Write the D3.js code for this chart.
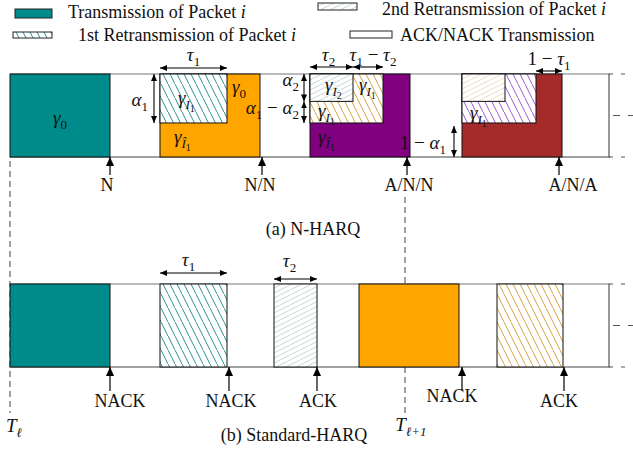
<!DOCTYPE html>
<html><head><meta charset="utf-8">
<script src="https://cdn.jsdelivr.net/npm/d3@7"></script>
<style>
body{margin:0;background:#fff}
text{font-family:"Liberation Serif","Times New Roman",serif;fill:#111}
</style>
</head><body>
<svg id="chart" width="633" height="449"></svg>
<script>
// ---------------- DATA ----------------
// time measured in slots (one full transmission = 1 slot); resources as fraction of band
const frameSlots = [0, 6];
const tau1 = 0.67, tau2 = 0.43;
const alpha1 = 0.59, alpha2 = 0.33;

// (a) N-HARQ transmissions
const aStart   = [0, 1.5, 3.0, 4.52];
const aWidth   = [1, 1, 1, 1];
const aRetx1W  = [0, 0.67, 0.73, 0.74];   // part carrying 1st retransmission (tau1)
const aRetx1H  = [0, alpha1, alpha1, alpha1];
const aRetx2W  = [0, 0, tau2, tau2];       // part carrying 2nd retransmission (tau2)
const aRetx2H  = [0, 0, alpha2, alpha2];
const aFbTime  = [1, 2.52, 3.97, 5.49];
const aFbLabel = ['N', 'N/N', 'A/N/N', 'A/N/A'];

// (b) Standard-HARQ transmissions
const bStart   = [0, 1.5, 2.64, 3.49, 4.87];
const bWidth   = [1, 0.67, 0.43, 1, 0.66];
const bFbTime  = [1, 2.19, 3.07, 4.52, 5.54];
const bFbLabel = ['NACK', 'NACK', 'ACK', 'NACK', 'ACK'];

// frame boundaries
const tEll = 0, tEll1 = 3.95;

// legend
const legendLabels = ['Transmission of Packet ', '1st Retransmission of Packet ', '2nd Retransmission of Packet ', 'ACK/NACK Transmission'];

// ---------------- STYLES ----------------
const teal = '#008b8b', orange = '#ffa500', purple = '#800080', brown = '#a52a2a';
const aFill  = [teal, orange, purple, brown];
const aRetx1Fill = [null, 'url(#hTeal)', 'url(#hOrange)', 'url(#hPurple)'];
const aRetx2Fill = [null, null, 'url(#lTeal)', 'url(#lTan)'];
const bFill  = [teal, 'url(#hTeal)', 'url(#lTeal)', orange, 'url(#hOrange)'];
const aLblDx = [-3, -2, 2, 14];
const bLblDx = [10, 2, 1, -10, -5];

// ---------------- SCALES ----------------
const svg = d3.select('#chart');
const X  = d3.scaleLinear().domain(frameSlots).range([10, 610]);
const YA = d3.scaleLinear().domain([0, 1]).range([157, 74]);
const YB = d3.scaleLinear().domain([0, 1]).range([367, 284]);

// ---------------- DEFS ----------------
const defs = svg.append('defs');
function backHatch(id, color, w) { // "\" lines
  const p = defs.append('pattern').attr('id', id).attr('patternUnits', 'userSpaceOnUse')
    .attr('width', 7).attr('height', 14);
  p.append('rect').attr('width', 7).attr('height', 14).attr('fill', '#fff');
  p.append('line').attr('x1', -1).attr('y1', -2).attr('x2', 8).attr('y2', 16)
    .attr('stroke', color).attr('stroke-width', w);
}
function fwdHatch(id, color, w) { // "/" light lines
  const p = defs.append('pattern').attr('id', id).attr('patternUnits', 'userSpaceOnUse')
    .attr('width', 10).attr('height', 5);
  p.append('rect').attr('width', 10).attr('height', 5).attr('fill', '#fff');
  p.append('line').attr('x1', -2).attr('y1', 6).attr('x2', 12).attr('y2', -1)
    .attr('stroke', color).attr('stroke-width', w);
}
backHatch('hTeal', '#2b8f8f', 1);
backHatch('hOrange', '#d9a040', 1);
backHatch('hPurple', '#9b5ad6', 1);
fwdHatch('lTeal', '#b9cccc', 0.8);
fwdHatch('lTan', '#e6d2b4', 0.8);

function marker(id, len, half) {
  defs.append('marker').attr('id', id).attr('markerUnits', 'userSpaceOnUse')
    .attr('viewBox', `0 0 ${len} ${half*2}`).attr('markerWidth', len).attr('markerHeight', half*2)
    .attr('refX', len).attr('refY', half).attr('orient', 'auto-start-reverse')
    .append('path').attr('d', `M0,0L${len},${half}L0,${half*2}Z`).attr('fill', '#000');
}
marker('ah', 7, 3);
marker('fb', 9, 4);

// ---------------- helpers ----------------
function mathText(g, x, y, segs, anchor) {
  const t = g.append('text').attr('x', x).attr('y', y).attr('text-anchor', anchor || 'start');
  let cur = 0;
  segs.forEach(s => {
    const lvl = s.l || 0;
    const size = [19, 13, 10][lvl];
    const off = [0, 5, 8][lvl];
    const ts = t.append('tspan').text(s.t).attr('font-size', size)
      .attr('font-style', s.i ? 'italic' : 'normal');
    if (off !== cur) ts.attr('dy', off - cur);
    cur = off;
  });
  return t;
}
const gam = (sub, hat) => {
  if (sub === '0') return [{t:'γ', i:1}, {t:'0', l:1}];
  return [{t:'γ', i:1}, {t: hat ? 'Î' : 'I', i:1, l:1}, {t: sub, l:2}];
};
function dimArrow(g, x1, y1, x2, y2) {
  g.append('line').attr('x1', x1).attr('y1', y1).attr('x2', x2).attr('y2', y2)
    .attr('stroke', '#000').attr('stroke-width', 1.1)
    .attr('marker-start', 'url(#ah)').attr('marker-end', 'url(#ah)');
}

// ---------------- FRAME BOUNDARY DASHES ----------------
const gDash = svg.append('g').attr('stroke', '#555').attr('stroke-width', 1.1).attr('stroke-dasharray', '6,4');
gDash.append('line').attr('x1', X(tEll)).attr('x2', X(tEll)).attr('y1', YA(0) + 4).attr('y2', 413);
gDash.append('line').attr('x1', X(tEll1)).attr('x2', X(tEll1)).attr('y1', 197).attr('y2', 413);

// ---------------- PANELS ----------------
function panel(Y) {
  const g = svg.append('g');
  g.append('line').attr('x1', X(0)).attr('x2', X(6)).attr('y1', Y(1)).attr('y2', Y(1)).attr('stroke', '#777').attr('stroke-width', 1.2);
  g.append('line').attr('x1', X(0)).attr('x2', X(6)).attr('y1', Y(0)).attr('y2', Y(0)).attr('stroke', '#444').attr('stroke-width', 1.2);
  g.append('line').attr('x1', X(6) - 1).attr('x2', X(6) - 1).attr('y1', Y(1)).attr('y2', Y(0)).attr('stroke', '#555').attr('stroke-width', 1.2);
  [1, 0].forEach(v => g.append('line').attr('x1', X(6) - 1).attr('x2', X(6) + 20).attr('y1', Y(v)).attr('y2', Y(v))
    .attr('stroke', '#555').attr('stroke-dasharray', '4,8'));
  g.append('line').attr('x1', X(6) + 3).attr('x2', X(6) + 24).attr('y1', Y(0.5)).attr('y2', Y(0.5))
    .attr('stroke', '#555').attr('stroke-dasharray', '7,8');
  return g;
}
const gA = panel(YA);
const gB = panel(YB);

// (a) blocks
aStart.forEach((s, i) => {
  gA.append('rect').attr('x', X(s)).attr('y', YA(1)).attr('width', X(s + aWidth[i]) - X(s)).attr('height', YA(0) - YA(1))
    .attr('fill', aFill[i]).attr('stroke', '#111').attr('stroke-width', 1);
  if (aRetx1W[i] > 0)
    gA.append('rect').attr('x', X(s)).attr('y', YA(1)).attr('width', X(s + aRetx1W[i]) - X(s)).attr('height', YA(1 - aRetx1H[i]) - YA(1))
      .attr('fill', aRetx1Fill[i]).attr('stroke', '#111').attr('stroke-width', 1);
  if (aRetx2W[i] > 0)
    gA.append('rect').attr('x', X(s)).attr('y', YA(1)).attr('width', X(s + aRetx2W[i]) - X(s)).attr('height', YA(1 - aRetx2H[i]) - YA(1))
      .attr('fill', aRetx2Fill[i]).attr('stroke', '#111').attr('stroke-width', 1);
});
// (b) blocks
bStart.forEach((s, i) => {
  gB.append('rect').attr('x', X(s)).attr('y', YB(1)).attr('width', X(s + bWidth[i]) - X(s)).attr('height', YB(0) - YB(1))
    .attr('fill', bFill[i]).attr('stroke', '#111').attr('stroke-width', 1);
});

// feedback arrows
aFbTime.forEach((t, i) => {
  svg.append('line').attr('x1', X(t)).attr('x2', X(t)).attr('y1', YA(0) + 18).attr('y2', YA(0))
    .attr('stroke', '#000').attr('stroke-width', 1.2).attr('marker-end', 'url(#fb)');
  svg.append('text').attr('x', X(t) + aLblDx[i]).attr('y', 191).attr('text-anchor', 'middle').attr('font-size', 18).text(aFbLabel[i]);
});
bFbTime.forEach((t, i) => {
  svg.append('line').attr('x1', X(t)).attr('x2', X(t)).attr('y1', YB(0) + 24).attr('y2', YB(0))
    .attr('stroke', '#000').attr('stroke-width', 1.2).attr('marker-end', 'url(#fb)');
  svg.append('text').attr('x', X(t) + bLblDx[i]).attr('y', i === 3 ? 402 : 407).attr('text-anchor', 'middle').attr('font-size', 18).text(bFbLabel[i]);
});

// ---------------- ANNOTATIONS (a) ----------------
const ann = svg.append('g');
// tau arrows
dimArrow(ann, X(1.5), 68, X(1.5 + aRetx1W[1]), 68);
mathText(ann, X(1.5 + aRetx1W[1] / 2), 61, [{t:'τ', i:1}, {t:'1', l:1}], 'middle');
dimArrow(ann, X(3), 67, X(3 + tau2), 67);
dimArrow(ann, X(3 + tau2), 67, X(3 + aRetx1W[2]), 67);
mathText(ann, X(3 + tau2 / 2) - 3, 61, [{t:'τ', i:1}, {t:'2', l:1}], 'middle');
mathText(ann, X(3 + (tau2 + aRetx1W[2]) / 2) + 5, 61, [{t:'τ', i:1}, {t:'1', l:1}, {t:' − '}, {t:'τ', i:1}, {t:'2', l:1}], 'middle');
dimArrow(ann, X(4.52 + aRetx1W[3]), 71, X(5.52), 71);
mathText(ann, X(4.52 + (aRetx1W[3] + 1) / 2), 65, [{t:'1 − '}, {t:'τ', i:1}, {t:'1', l:1}], 'middle');
// alpha arrows
dimArrow(ann, 154, YA(1), 154, YA(1 - alpha1));
mathText(ann, 148, 106, [{t:'α', i:1}, {t:'1', l:1}], 'end');
dimArrow(ann, 304, YA(1), 304, YA(1 - alpha2));
dimArrow(ann, 304, YA(1 - alpha2), 304, YA(1 - alpha1));
mathText(ann, 299, 86, [{t:'α', i:1}, {t:'2', l:1}], 'end');
mathText(ann, 299, 114, [{t:'α', i:1}, {t:'1', l:1}, {t:' − '}, {t:'α', i:1}, {t:'2', l:1}], 'end');
dimArrow(ann, 454, YA(1 - alpha1) + 3, 454, YA(0));
mathText(ann, 446, 149, [{t:'1 − '}, {t:'α', i:1}, {t:'1', l:1}], 'end');
// gamma labels
mathText(ann, X(0.5), 124, gam('0'), 'middle');
mathText(ann, 178, 104, gam('1'));
mathText(ann, 232, 93, gam('0'));
mathText(ann, 174, 143, gam('1', true));
mathText(ann, 325, 91, gam('2'));
mathText(ann, 359, 91, gam('1'));
mathText(ann, 318, 117, gam('1'));
mathText(ann, 318, 143, gam('1', true));
mathText(ann, 470, 119, gam('1'));

// ---------------- ANNOTATIONS (b) ----------------
dimArrow(ann, X(bStart[1]), 273, X(bStart[1] + bWidth[1]), 273);
mathText(ann, X(bStart[1] + bWidth[1] / 2) - 5, 266, [{t:'τ', i:1}, {t:'1', l:1}], 'middle');
dimArrow(ann, X(bStart[2]), 279, X(bStart[2] + bWidth[2]), 279);
mathText(ann, X(bStart[2] + bWidth[2] / 2) - 6, 267, [{t:'τ', i:1}, {t:'2', l:1}], 'middle');
mathText(ann, X(tEll) + 4, 432, [{t:'T', i:1}, {t:'ℓ', i:1, l:1}], 'middle');
mathText(ann, X(tEll1) + 6, 431, [{t:'T', i:1}, {t:'ℓ+1', i:1, l:1}], 'middle');

// captions
svg.append('text').attr('x', 313).attr('y', 235).attr('text-anchor', 'middle').attr('font-size', 18).text('(a) N-HARQ');
svg.append('text').attr('x', 294).attr('y', 441).attr('text-anchor', 'middle').attr('font-size', 18).text('(b) Standard-HARQ');

// ---------------- LEGEND ----------------
const lg = svg.append('g');
const legendItems = [
  {x: 15, y: 9, w: 37, h: 9, fill: teal, tx: 68, ty: 18},
  {x: 13, y: 32, w: 39, h: 6, fill: 'url(#hTeal)', tx: 78, ty: 41},
  {x: 318, y: 3, w: 39, h: 7, fill: 'url(#lTeal)', tx: 382, ty: 15},
  {x: 350, y: 31, w: 42, h: 7, fill: '#fff', tx: 400, ty: 41}
];
legendItems.forEach((d, i) => {
  lg.append('rect').attr('x', d.x).attr('y', d.y).attr('width', d.w).attr('height', d.h)
    .attr('fill', d.fill).attr('stroke', '#222').attr('stroke-width', 1);
  const t = lg.append('text').attr('x', d.tx).attr('y', d.ty).attr('font-size', 18).text(legendLabels[i]);
  if (i < 3) t.append('tspan').attr('font-style', 'italic').text('i');
});
</script>
</body></html>
